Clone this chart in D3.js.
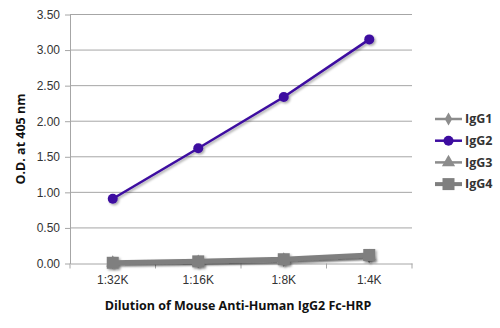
<!DOCTYPE html>
<html><head><meta charset="utf-8">
<script src="https://cdn.jsdelivr.net/npm/d3@7"></script>
<style>body{margin:0;background:#fff}svg{display:block;font-family:"Open Sans","Noto Sans",sans-serif}</style>
</head><body><svg id="c" width="500" height="328"></svg>
<script>
const categories = ["1:32K","1:16K","1:8K","1:4K"];
const seriesNames = ["IgG1","IgG2","IgG3","IgG4"];
const igg1 = [0.01, 0.02, 0.04, 0.09];
const igg2 = [0.91, 1.62, 2.34, 3.15];
const igg3 = [0.01, 0.02, 0.05, 0.10];
const igg4 = [0.01, 0.03, 0.06, 0.12];
const yTicks = [0,0.5,1,1.5,2,2.5,3,3.5];
const yTitle = "O.D. at 405 nm";
const xTitle = "Dilution of Mouse Anti-Human IgG2 Fc-HRP";

const svg = d3.select("#c");
const L=70, R=412, T=14.5, B=263.5;
const x = d3.scaleBand().domain(categories).range([L,R]);
const y = d3.scaleLinear().domain([0,3.5]).range([B,T]);

const defs = svg.append("defs");
const f = defs.append("filter").attr("id","sh").attr("x","-20%").attr("y","-20%").attr("width","150%").attr("height","150%");
f.append("feDropShadow").attr("dx",1.5).attr("dy",1.5).attr("stdDeviation",1.2).attr("flood-color","#000").attr("flood-opacity",0.35);

// gridlines
svg.append("g").selectAll("line").data(yTicks.slice(1)).join("line")
  .attr("x1",L).attr("x2",R).attr("y1",d=>y(d)).attr("y2",d=>y(d))
  .attr("stroke","#a6a6a6").attr("stroke-width",1);

// y axis
const ya = svg.append("g").attr("transform",`translate(${L},0)`)
  .call(d3.axisLeft(y).tickValues(yTicks).tickFormat(d3.format(".2f")).tickSize(5).tickSizeOuter(0));
ya.select(".domain").attr("stroke","#a6a6a6");
ya.selectAll(".tick line").attr("stroke","#a6a6a6");
ya.selectAll("text").attr("font-size",12).attr("fill","#333").attr("x",-10);

// x axis
const xa = svg.append("g").attr("transform",`translate(0,${B})`)
  .call(d3.axisBottom(x).tickSize(0).tickSizeOuter(0));
xa.select(".domain").attr("stroke","#a6a6a6");
xa.selectAll("text").attr("font-size",12).attr("fill","#333").attr("y",10).attr("dy","0.9em");
svg.append("g").selectAll("line").data(d3.range(categories.length+1)).join("line")
  .attr("x1",i=>L+i*x.step()).attr("x2",i=>L+i*x.step()).attr("y1",B).attr("y2",B+5)
  .attr("stroke","#a6a6a6");

// titles
svg.append("text").attr("transform",`translate(25,${(T+B)/2}) rotate(-90)`).attr("text-anchor","middle")
  .attr("font-size",12.5).attr("font-weight","bold").attr("fill","#111").text(yTitle);
svg.append("text").attr("x",(L+R)/2 - 3).attr("y",310).attr("text-anchor","middle")
  .attr("font-size",12.5).attr("font-weight","bold").attr("fill","#111").text(xTitle);

const styles = {
  IgG1:{data:igg1,color:"#8c8c8c",w:2,marker:"diamond",size:4},
  IgG2:{data:igg2,color:"#3d0ca0",w:2.5,marker:"circle",size:5},
  IgG3:{data:igg3,color:"#8c8c8c",w:2.5,marker:"triangle",size:5},
  IgG4:{data:igg4,color:"#7f7f7f",w:5,marker:"square",size:6},
};
const sym = {diamond:d3.symbolDiamond,circle:d3.symbolCircle,triangle:d3.symbolTriangle,square:d3.symbolSquare};
const cx = c=>x(c)+x.bandwidth()/2;

function marker(g,s,px,py){
  const area = s.marker==="square"? (2*s.size)*(2*s.size) : s.marker==="circle"? Math.PI*s.size*s.size : s.size*s.size*3;
  g.append("path").attr("d",d3.symbol().type(sym[s.marker]).size(area)()).attr("transform",`translate(${px},${py})`).attr("fill",s.color);
}

["IgG1","IgG3","IgG4","IgG2"].forEach(n=>{
  const s=styles[n];
  const g=svg.append("g").attr("filter","url(#sh)");
  g.append("path").datum(s.data).attr("fill","none").attr("stroke",s.color).attr("stroke-width",s.w)
    .attr("d",d3.line().x((d,i)=>cx(categories[i])).y(d=>y(d)));
  s.data.forEach((d,i)=>marker(g,s,cx(categories[i]),y(d)));
});

// legend
const lg = svg.append("g");
seriesNames.forEach((n,i)=>{
  const s=styles[n]; const yy=119+i*21.7;
  lg.append("line").attr("x1",435).attr("x2",462).attr("y1",yy).attr("y2",yy).attr("stroke",s.color).attr("stroke-width",n==="IgG4"?4:2.5);
  marker(lg,s,448.5,yy);
  lg.append("text").attr("x",465).attr("y",yy).attr("dy","0.35em").attr("font-size",12.5).attr("font-weight","bold").attr("fill","#333").text(n);
});
</script></body></html>
